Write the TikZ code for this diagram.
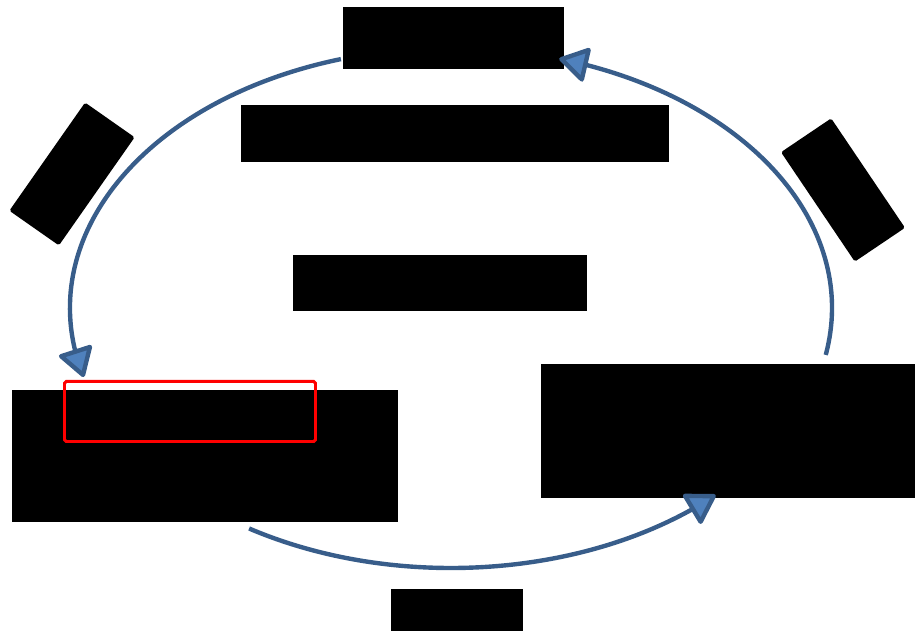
\documentclass[tikz,border=0pt]{standalone}
\usepackage{tikz}
\usetikzlibrary{
    arrows.meta,
    bending,
    calc
}
\definecolor{cycline}{RGB}{56,93,138}
\definecolor{cycfill}{RGB}{79,129,189}
\tikzset{
    blackbox/.style={
        rectangle,
        fill=black,
        inner sep=0pt
    },
    tiltbox/.style={
        rectangle,
        fill=black,
        inner sep=0pt,
        rounded corners=1pt,
        minimum width=2.64cm,
        minimum height=1.21cm
    },
    markbox/.style={
        rectangle,
        draw=red,
        line width=1.7pt,
        rounded corners=1pt,
        inner sep=0pt
    },
    cycarrow/.style={
        draw=cycline,
        line width=2.5pt,
        -{Triangle[length=6.2mm, width=7.4mm, fill=cycfill, round]}
    }
}

\begin{document}
\begin{tikzpicture}
\useasboundingbox (0,0) rectangle (18.3,12.62);

\node[blackbox, minimum width=4.42cm, minimum height=1.24cm] (topbox) at (9.07,11.86) {};
\node[blackbox, minimum width=8.56cm, minimum height=1.14cm] (headbox) at (9.10,9.95) {};
\node[blackbox, minimum width=5.88cm, minimum height=1.12cm] (midbox) at (8.80,6.96) {};
\node[blackbox, minimum width=7.72cm, minimum height=2.64cm] (leftbox) at (4.10,3.50) {};
\node[blackbox, minimum width=7.48cm, minimum height=2.68cm] (rightbox) at (14.56,4.00) {};
\node[blackbox, minimum width=2.64cm, minimum height=0.84cm] (lowbox) at (9.14,0.42) {};
\node[tiltbox, rotate=55] (lefttilt) at (1.44,9.14) {};
\node[tiltbox, rotate=-56] (righttilt) at (16.86,8.82) {};

\coordinate (cyc) at (9.02,6.46);
\coordinate (rstart) at ($(cyc)+(-10.4:7.62 and 5.2)$);
\coordinate (tstart) at ($(cyc)+(106.8:7.62 and 5.2)$);
\coordinate (bstart) at ($(cyc)+(238:7.62 and 5.2)$);

\draw[cycarrow] (rstart) arc[start angle=-10.4, end angle=73.5, x radius=7.62, y radius=5.2];
\draw[cycarrow] (tstart) arc[start angle=106.8, end angle=195.4, x radius=7.62, y radius=5.2];
\draw[cycarrow] (bstart) arc[start angle=238, end angle=314, x radius=7.62, y radius=5.2];

\node[markbox, minimum width=5.02cm, minimum height=1.20cm] (mark) at (3.80,4.39) {};

\end{tikzpicture}
\end{document}
